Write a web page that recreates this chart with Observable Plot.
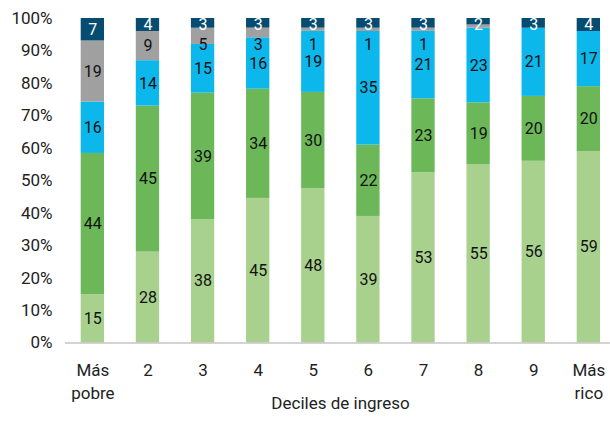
<!DOCTYPE html>
<html>
<head>
<meta charset="utf-8">
<script src="https://cdn.jsdelivr.net/npm/d3@7"></script>
<script src="https://cdn.jsdelivr.net/npm/@observablehq/plot@0.6"></script>
<style>
  body { margin: 0; background: #fff; }
  svg { display: block; }
</style>
</head>
<body>
<div id="chart"></div>
<script>
// Income deciles (x axis)
const deciles = ["Más\npobre", "2", "3", "4", "5", "6", "7", "8", "9", "Más\nrico"];

// Stack segments, bottom to top (percent of each decile)
const seriesNames = ["Categoría 1", "Categoría 2", "Categoría 3", "Categoría 4", "Categoría 5"];
const categoria1 = [15, 28, 38, 45, 48, 39, 53, 55, 56, 59];
const categoria2 = [44, 45, 39, 34, 30, 22, 23, 19, 20, 20];
const categoria3 = [16, 14, 15, 16, 19, 35, 21, 23, 21, 17];
const categoria4 = [19, 9, 5, 3, 1, 1, 1, 1, 0, 0];
const categoria5 = [7, 4, 3, 3, 3, 3, 3, 2, 3, 4];
const colors = ["#a9d18e", "#6cb858", "#0cb7ec", "#a0a0a0", "#064c70"];

// Segments whose value label is left off (decile, series)
const unlabeled = [["8", "Categoría 4"]];

const yTicks = [0, 0.1, 0.2, 0.3, 0.4, 0.5, 0.6, 0.7, 0.8, 0.9, 1];

const values = [categoria1, categoria2, categoria3, categoria4, categoria5];

const rows = [];
seriesNames.forEach((s, k) =>
  values[k].forEach((v, i) => rows.push({decile: deciles[i], serie: s, value: v}))
);

// Label positions: middle of each normalized segment; labels of the thin
// fourth segment are nudged down below the top band so they stay readable.
const labels = [];
deciles.forEach((d, i) => {
  const total = d3.sum(values, v => v[i]);
  let base = 0;
  values.forEach((v, k) => {
    const val = v[i];
    let mid = (base + val / 2) / total;
    base += val;
    if (val === 0) return;
    if (unlabeled.some(([dd, ss]) => dd === d && ss === seriesNames[k])) return;
    if (k === 3) mid = Math.min(mid, 0.92);
    if (k === 4) mid = Math.min(mid, 0.98);
    labels.push({decile: d, y: mid, text: String(val), light: k === 4});
  });
});

const chart = Plot.plot({
  width: 610,
  height: 421,
  marginTop: 18,
  marginBottom: 78.5,
  marginLeft: 65,
  marginRight: 0,
  style: {fontFamily: "Roboto", fontSize: "17px", color: "#222", background: "white"},
  x: {domain: deciles, range: [80.7, 600], paddingInner: 0.577, paddingOuter: 0, round: false},
  y: {domain: [0, 1]},
  color: {domain: seriesNames, range: colors},
  marks: [
    Plot.barY(rows, Plot.stackY({x: "decile", y: "value", fill: "serie", offset: "normalize"})),
    Plot.ruleY([0], {stroke: "#c4c4c4", strokeWidth: 1.5}),
    Plot.text(labels.filter(d => !d.light), {x: "decile", y: "y", text: "text", fill: "#111", fontSize: 16}),
    Plot.text(labels.filter(d => d.light), {x: "decile", y: "y", text: "text", fill: "white", fontSize: 16}),
    Plot.axisY({ticks: yTicks, tickFormat: d3.format(".0%"), tickSize: 0, tickPadding: 13, label: null}),
    Plot.axisX({tickSize: 0, tickPadding: 16, lineHeight: 1.37, label: null}),
    Plot.text(["Deciles de ingreso"], {frameAnchor: "bottom", dy: 66, dx: 2.5, fontSize: 17, fill: "#222"})
  ]
});

document.getElementById("chart").appendChild(chart);
</script>
</body>
</html>
